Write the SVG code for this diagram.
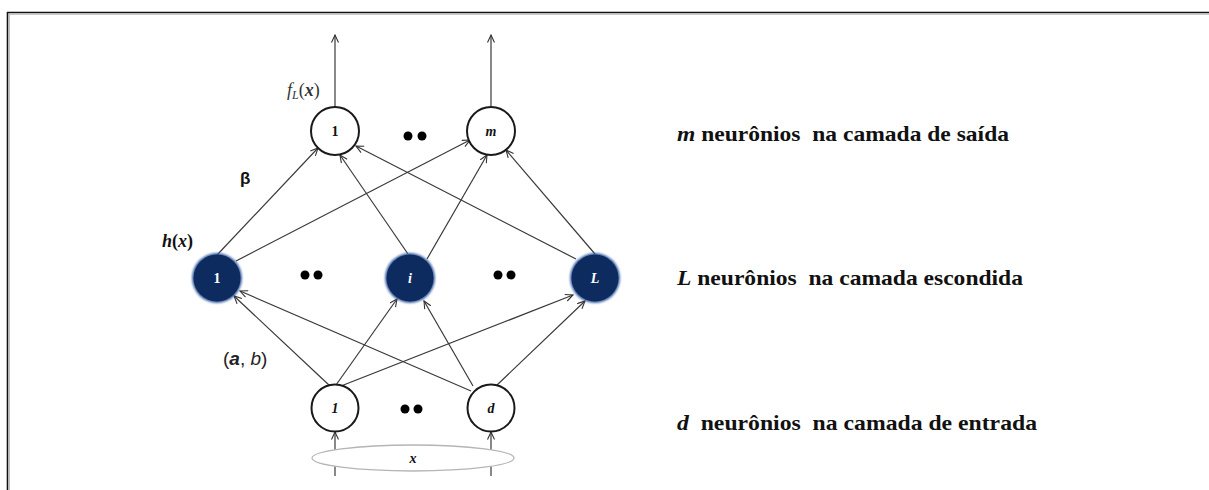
<svg xmlns="http://www.w3.org/2000/svg" width="1209" height="490" viewBox="0 0 1209 490">
  <defs>
    <marker id="arrow" markerUnits="userSpaceOnUse" markerWidth="10" markerHeight="10" refX="8" refY="4" orient="auto">
      <path d="M0.5,0.5 L8,4 L0.5,7.5" fill="none" stroke="#333" stroke-width="1.1"/>
    </marker>
    <filter id="glow" x="-30%" y="-30%" width="160%" height="160%">
      <feGaussianBlur stdDeviation="0.8"/>
    </filter>
  </defs>
  <style>
    .edge { stroke: #3a3a3a; stroke-width: 1.2; fill: none; marker-end: url(#arrow); }
    .plain { fill: #fff; stroke: #1a1a1a; stroke-width: 2; }
    .hidden { fill: #0e2b5f; }
    .halo { fill: #3d64a3; filter: url(#glow); }
    .lbl { font-family: "Liberation Serif", serif; font-weight: bold; font-size: 14px; text-anchor: middle; fill: #111; }
    .wl { fill: #fff; }
    .side { font-family: "Liberation Serif", serif; font-weight: bold; font-size: 22px; fill: #111; white-space: pre; }
    .dot { fill: #000; }
  </style>

  <rect width="1209" height="490" fill="#fff"/>

  <!-- frame -->
  <g id="frame">
    <line x1="7" y1="12.5" x2="1209" y2="12.5" stroke="#111" stroke-width="1.6"/>
    <line x1="9" y1="14.2" x2="1209" y2="14.2" stroke="#b0b0b0" stroke-width="1"/>
    <line x1="7.5" y1="12" x2="7.5" y2="490" stroke="#111" stroke-width="1.6"/>
    <line x1="9.3" y1="14" x2="9.3" y2="490" stroke="#b0b0b0" stroke-width="1"/>
  </g>

  <!-- connectors -->
  <g id="connectors">
    <!-- outputs -->
    <line class="edge" x1="335" y1="107" x2="335" y2="35"/>
    <line class="edge" x1="491" y1="107" x2="491" y2="35"/>
    <!-- hidden to output -->
    <line class="edge" x1="217" y1="255" x2="318" y2="148"/>
    <line class="edge" x1="236" y1="261" x2="470" y2="140"/>
    <line class="edge" x1="408" y1="254" x2="340" y2="155"/>
    <line class="edge" x1="427" y1="259" x2="487" y2="155"/>
    <line class="edge" x1="576" y1="259" x2="356" y2="146"/>
    <line class="edge" x1="595" y1="254" x2="506" y2="150"/>
    <!-- input to hidden -->
    <line class="edge" x1="330" y1="386" x2="234" y2="296"/>
    <line class="edge" x1="471" y1="391" x2="240" y2="291"/>
    <line class="edge" x1="336" y1="385" x2="397" y2="299"/>
    <line class="edge" x1="473" y1="386" x2="424" y2="301"/>
    <line class="edge" x1="341" y1="386" x2="573" y2="295"/>
    <line class="edge" x1="496" y1="386" x2="585" y2="301"/>
    <!-- input feed -->
    <line class="edge" x1="335" y1="476" x2="335" y2="432"/>
    <line class="edge" x1="491" y1="476" x2="491" y2="432"/>
  </g>

  <!-- input vector -->
  <g id="input-x">
    <ellipse cx="413" cy="458" rx="101" ry="13" fill="#fff" stroke="#b5b5b5" stroke-width="1.3"/>
    <text x="413" y="463" class="lbl" font-style="italic" font-size="16">x</text>
  </g>

  <!-- output layer -->
  <g id="out-1">
    <circle class="plain" cx="335" cy="131" r="24"/>
    <text class="lbl" x="335" y="136">1</text>
  </g>
  <g id="out-m">
    <circle class="plain" cx="491" cy="131" r="24"/>
    <text class="lbl" x="491" y="136" font-style="italic">m</text>
  </g>
  <g id="out-dots">
    <circle class="dot" cx="408" cy="136" r="4.5"/>
    <circle class="dot" cx="422" cy="136" r="4.5"/>
  </g>

  <!-- hidden layer -->
  <g id="hid-1">
    <circle class="halo" cx="217" cy="278" r="25"/>
    <circle class="hidden" cx="217" cy="278" r="23.5"/>
    <text class="lbl wl" x="217" y="283">1</text>
  </g>
  <g id="hid-i">
    <circle class="halo" cx="410" cy="278" r="25"/>
    <circle class="hidden" cx="410" cy="278" r="23.5"/>
    <text class="lbl wl" x="410" y="283" font-style="italic">i</text>
  </g>
  <g id="hid-L">
    <circle class="halo" cx="595" cy="278" r="25"/>
    <circle class="hidden" cx="595" cy="278" r="23.5"/>
    <text class="lbl wl" x="595" y="283" font-style="italic">L</text>
  </g>
  <g id="hid-dots">
    <circle class="dot" cx="305" cy="275" r="4.5"/>
    <circle class="dot" cx="318" cy="275" r="4.5"/>
    <circle class="dot" cx="498" cy="275" r="4.5"/>
    <circle class="dot" cx="511" cy="275" r="4.5"/>
  </g>

  <!-- input layer -->
  <g id="in-1">
    <circle class="plain" cx="335" cy="408" r="23.5"/>
    <text class="lbl" x="335" y="413" font-style="italic">1</text>
  </g>
  <g id="in-d">
    <circle class="plain" cx="491" cy="408" r="23.5"/>
    <text class="lbl" x="491" y="413" font-style="italic">d</text>
  </g>
  <g id="in-dots">
    <circle class="dot" cx="405" cy="409" r="4.5"/>
    <circle class="dot" cx="418" cy="409" r="4.5"/>
  </g>

  <!-- weight and activation labels -->
  <g id="labels">
    <text x="287" y="96" font-family="Liberation Serif, serif" font-size="18" fill="#333"><tspan font-style="italic">f</tspan><tspan font-style="italic" font-size="12" dy="3">L</tspan><tspan dy="-3">(</tspan><tspan font-style="italic" font-weight="bold">x</tspan>)</text>
    <text x="240" y="184" font-family="Liberation Sans, sans-serif" font-weight="bold" font-size="17" fill="#111">β</text>
    <text x="162" y="247" font-family="Liberation Serif, serif" font-weight="bold" font-size="18" fill="#111"><tspan font-style="italic">h</tspan>(<tspan font-style="italic">x</tspan>)</text>
    <text x="223" y="365" font-family="Liberation Sans, sans-serif" font-size="19" fill="#222">(<tspan font-style="italic" font-weight="bold">a</tspan>, <tspan font-style="italic">b</tspan>)</text>
  </g>

  <!-- layer descriptions -->
  <g id="captions">
    <text class="side" x="677" y="141" textLength="332" lengthAdjust="spacingAndGlyphs"><tspan font-style="italic">m</tspan> neurônios  na camada de saída</text>
    <text class="side" x="677" y="285" textLength="346" lengthAdjust="spacingAndGlyphs"><tspan font-style="italic">L</tspan> neurônios  na camada escondida</text>
    <text class="side" x="677" y="430" textLength="360" lengthAdjust="spacingAndGlyphs"><tspan font-style="italic">d</tspan>  neurônios  na camada de entrada</text>
  </g>
</svg>
